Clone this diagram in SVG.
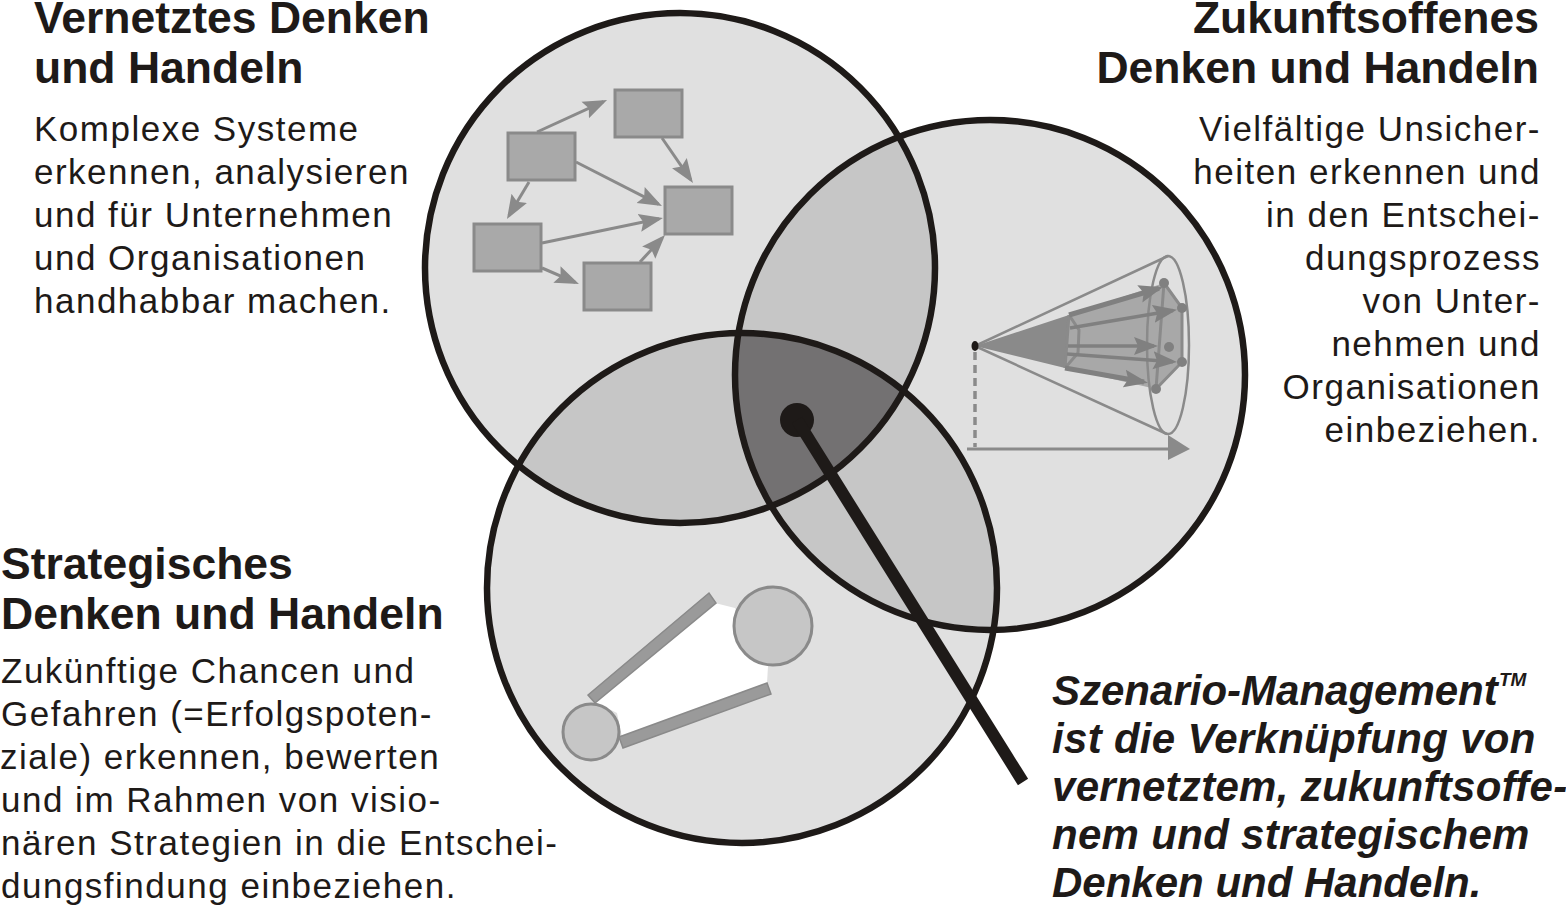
<svg xmlns="http://www.w3.org/2000/svg" width="1566" height="906" viewBox="0 0 1566 906">
<style>
text{font-family:"Liberation Sans",Arial,sans-serif;fill:#1e1a18}
.h{font-size:44.5px;font-weight:bold}
.b{font-size:35px;letter-spacing:1.5px}
.e{text-anchor:end}
.s{font-size:42px;font-weight:bold;font-style:italic}
.w{letter-spacing:.3px}
.ring{fill:none;stroke:#1e1a18;stroke-width:6.5}
.g{stroke:#8a8a8a;fill:none}
.box{fill:#a9a9a9;stroke:#8a8a8a;stroke-width:3}
.ar{stroke:#8a8a8a;stroke-width:3;fill:none;marker-end:url(#ah)}
.cr{stroke:#808080;stroke-width:3.5;fill:none;marker-end:url(#ac)}
.dot{fill:#808080}
.bar{fill:#9a9a9a;stroke:#8a8a8a;stroke-width:1.5}
.ball{fill:#c6c6c6;stroke:#8a8a8a;stroke-width:3}
</style>
<defs>
<marker id="ah" markerUnits="userSpaceOnUse" markerWidth="26" markerHeight="20" refX="20" refY="10" orient="auto"><path d="M0,1L24,10L0,19L4,10Z" fill="#8a8a8a"/></marker>
<marker id="ac" markerUnits="userSpaceOnUse" markerWidth="26" markerHeight="20" refX="20" refY="10" orient="auto"><path d="M0,1L24,10L0,19L4,10Z" fill="#808080"/></marker>
<clipPath id="ca"><circle cx="680" cy="268" r="255"/></clipPath>
<clipPath id="cb"><circle cx="990" cy="375" r="255"/></clipPath>
</defs>
<rect width="1566" height="906" fill="#fff"/>
<g id="venn-fills">
<circle cx="680" cy="268" r="255" fill="#e0e0e0"/>
<circle cx="990" cy="375" r="255" fill="#e0e0e0"/>
<circle cx="742" cy="588" r="255" fill="#e0e0e0"/>
<g clip-path="url(#ca)"><circle cx="990" cy="375" r="255" fill="#c6c6c6"/><circle cx="742" cy="588" r="255" fill="#c6c6c6"/></g>
<g clip-path="url(#cb)"><circle cx="742" cy="588" r="255" fill="#c6c6c6"/></g>
<g clip-path="url(#ca)"><g clip-path="url(#cb)"><circle cx="742" cy="588" r="255" fill="#737172"/></g></g>
</g>
<g id="network">
<rect class="box" x="615" y="90" width="67" height="47"/>
<rect class="box" x="508" y="133" width="67" height="47"/>
<rect class="box" x="474" y="224" width="67" height="47"/>
<rect class="box" x="584" y="263" width="67" height="47"/>
<rect class="box" x="665" y="187" width="67" height="47"/>
<path class="ar" d="M537,132L603.4,101.7"/>
<path class="ar" d="M662,138L690.7,179.7"/>
<path class="ar" d="M576,162L658.4,204.2"/>
<path class="ar" d="M529,182L509,215.6"/>
<path class="ar" d="M542,243L659,218.8"/>
<path class="ar" d="M542,268L575.3,282.4"/>
<path class="ar" d="M640,262L662.3,237.9"/>
</g>
<g id="cone">
<path d="M1069,315L1164,283L1182,308L1182,362L1156,389L1065,368Z" fill="#a8a8a8"/>
<path d="M975,346L1069,315L1065,368Z" fill="#8a8a8a"/>
<ellipse class="g" cx="1168" cy="345" rx="21" ry="89" stroke-width="2.5"/>
<path class="g" stroke-width="2.5" d="M975,346L1168,256M975,346L1167,434"/>
<path class="g" stroke-width="3.5" stroke-dasharray="8 5" d="M975,352V447"/>
<path class="g" stroke-width="3" d="M1069,315L1065,368M1069,315L1079,330L1078,353L1065,368M1164,283L1182,308L1182,362L1156,389L1164,283"/>
<path class="cr" style="stroke-width:5" d="M1069,315L1159,288.3"/>
<path class="cr" style="stroke-width:5" d="M1065,368L1144,382"/>
<path class="cr" d="M1070,328L1173,310.5"/>
<path class="cr" d="M1068,346L1154,346"/>
<path class="cr" d="M1067,354L1173,361.8"/>
<circle class="dot" cx="1164" cy="283" r="5"/>
<circle class="dot" cx="1182" cy="308" r="5"/>
<circle class="dot" cx="1182" cy="362" r="5"/>
<circle class="dot" cx="1156" cy="389" r="5"/>
<circle class="dot" cx="1169" cy="347" r="5"/>
<ellipse cx="975" cy="346" rx="3.5" ry="5" fill="#1e1a18"/>
<path class="g" stroke-width="3" d="M967,449H1172"/>
<path d="M1168,435L1190,449L1168,460Z" fill="#8a8a8a"/>
</g>
<g id="strategy">
<path d="M715,603L735,608L768,666L767,683L622,737L617,713L595,702Z" fill="#fff"/>
<path class="bar" d="M588,695L709,593L716,603L595,703Z"/>
<path class="bar" d="M619,737L767,683L771,694L623,748Z"/>
<circle class="ball" cx="773" cy="626" r="39"/>
<circle class="ball" cx="591" cy="732" r="28"/>
</g>
<g id="venn-rings">
<circle class="ring" cx="680" cy="268" r="255"/>
<circle class="ring" cx="990" cy="375" r="255"/>
<circle class="ring" cx="742" cy="588" r="255"/>
</g>
<g id="pointer">
<circle cx="797" cy="420" r="17" fill="#1e1a18"/>
<path d="M797,420L1023,782" stroke="#1e1a18" stroke-width="12" fill="none"/>
</g>
<g id="label-network">
<text class="h" x="34" y="33">Vernetztes Denken</text>
<text class="h" x="34" y="83">und Handeln</text>
<text class="b" x="34" y="141">Komplexe Systeme</text>
<text class="b" x="34" y="184">erkennen, analysieren</text>
<text class="b" x="34" y="227">und für Unternehmen</text>
<text class="b" x="34" y="270">und Organisationen</text>
<text class="b" x="34" y="313">handhabbar machen.</text>
</g>
<g id="label-future">
<text class="h e" x="1539" y="33">Zukunftsoffenes</text>
<text class="h e" x="1539" y="83">Denken und Handeln</text>
<text class="b e" x="1541" y="141">Vielfältige Unsicher-</text>
<text class="b e" x="1541" y="184">heiten erkennen und</text>
<text class="b e" x="1541" y="227">in den Entschei-</text>
<text class="b e" x="1541" y="270">dungsprozess</text>
<text class="b e" x="1541" y="313">von Unter-</text>
<text class="b e" x="1541" y="356">nehmen und</text>
<text class="b e" x="1541" y="399">Organisationen</text>
<text class="b e" x="1541" y="442">einbeziehen.</text>
</g>
<g id="label-strategy">
<text class="h" x="1" y="579">Strategisches</text>
<text class="h" x="1" y="629">Denken und Handeln</text>
<text class="b" x="1" y="683">Zukünftige Chancen und</text>
<text class="b" x="1" y="726">Gefahren (=Erfolgspoten-</text>
<text class="b" x="0" y="769">ziale) erkennen, bewerten</text>
<text class="b" x="1" y="812">und im Rahmen von visio-</text>
<text class="b" x="1" y="855">nären Strategien in die Entschei-</text>
<text class="b" x="1" y="898">dungsfindung einbeziehen.</text>
</g>
<g id="label-summary">
<text class="s" x="1052" y="705">Szenario-Management</text>
<text class="s" x="1499" y="686" style="font-size:19px">TM</text>
<text class="s w" x="1052" y="753">ist die Verknüpfung von</text>
<text class="s w" x="1052" y="801">vernetztem, zukunftsoffe-</text>
<text class="s w" x="1052" y="849">nem und strategischem</text>
<text class="s" x="1052" y="897">Denken und Handeln.</text>
</g>
</svg>
